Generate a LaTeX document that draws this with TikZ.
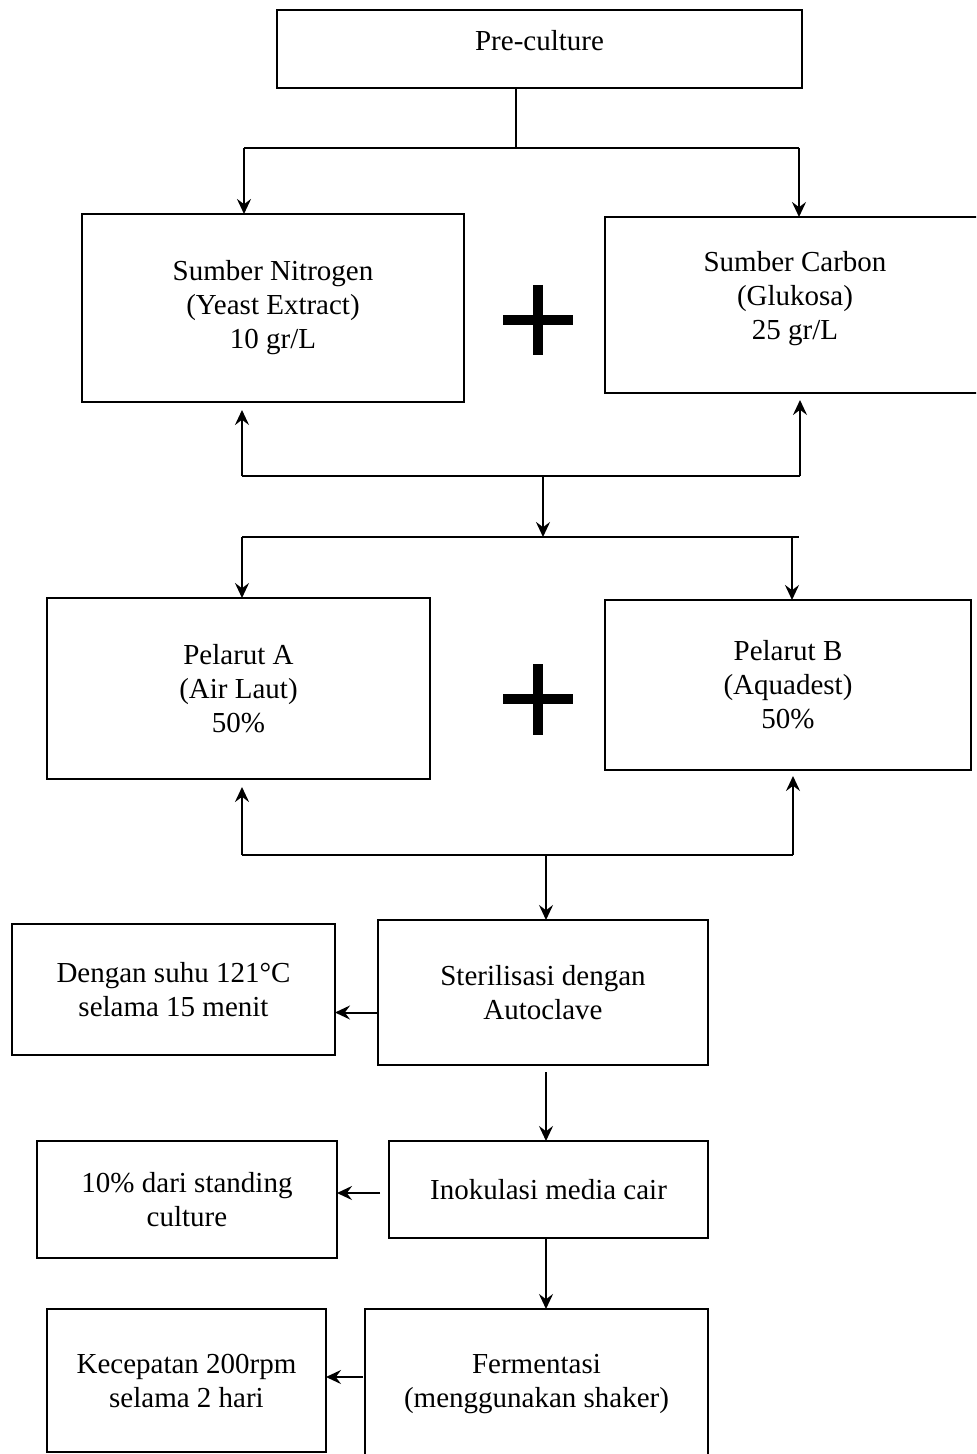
\documentclass[tikz,border=0pt]{standalone}
\usepackage{fontspec}
\setmainfont{Liberation Serif}
\usetikzlibrary{arrows.meta,calc}

\tikzset{
  box/.style={draw, line width=1.25pt, inner sep=0pt, outer sep=0pt,
    align=center, font=\fontsize{14.5}{17}\selectfont},
  sz/.style 2 args={minimum width=#1*0.5pt, minimum height=#2*0.5pt},
  conn/.style={line width=1pt},
  arr/.style={conn, -{Stealth[length=7.5pt,width=7pt,inset=2.6pt]}},
  plusbar/.style={line width=5pt}
}

\begin{document}
\begin{tikzpicture}[x=0.5pt, y=-0.5pt]
\clip (0,0) rectangle (976,1454);

% process boxes
\node[box, sz={525}{78}, text depth=9pt] (pre) at (539.5,49) {Pre-culture};
\node[box, sz={382}{188}] (nitro) at (273,308)
  {Sumber Nitrogen\\(Yeast Extract)\\10 gr/L};
\node[box, sz={380}{176}, text depth=10pt] (carbon) at (795,305)
  {Sumber Carbon\\(Glukosa)\\25 gr/L};
\node[box, sz={383}{181}] (pelA) at (238.5,688.5)
  {Pelarut A\\(Air Laut)\\50\%};
\node[box, sz={366}{170}] (pelB) at (788,685)
  {Pelarut B\\(Aquadest)\\50\%};
\node[box, sz={330}{145}] (ster) at (543,992.5)
  {Sterilisasi dengan\\Autoclave};
\node[box, sz={323}{131}] (dengan) at (173.5,989.5)
  {Dengan suhu 121°C\\selama 15 menit};
\node[box, sz={319}{97}] (inok) at (548.5,1189.5) {Inokulasi media cair};
\node[box, sz={300}{117}] (ten) at (187,1199.5)
  {10\% dari standing\\culture};
\node[box, sz={343}{151}] (ferm) at (536.5,1384.5)
  {Fermentasi\\(menggunakan shaker)};
\node[box, sz={279}{143}] (kec) at (186.5,1380.5)
  {Kecepatan 200rpm\\selama 2 hari};

% plus signs between the paired inputs
\draw[plusbar] (503,320) -- (573,320) (538,285) -- (538,355);
\draw[plusbar] (503,699) -- (573,699) (538,664) -- (538,735);

% pre-culture splits into the two sources
\coordinate (t0) at (516,148);
\coordinate (tL) at (244,148);
\coordinate (tR) at (799,148);
\draw[conn] (pre.south -| t0) -- (t0);
\draw[conn] (tL) -- (tR);
\draw[arr] (tL) -- (tL |- nitro.north);
\draw[arr] (tR) -- (tR |- carbon.north);

% sources merged, then split to the solvents
\coordinate (m1L) at (242,476);
\coordinate (m1R) at (800,476);
\coordinate (m1C) at (543,476);
\coordinate (m2C) at (543,537);
\coordinate (m2L) at (242,537);
\coordinate (m2R) at (799,537);
\coordinate (m2B) at (792,537);
\draw[conn] (m1L) -- (m1R);
\draw[arr, shorten >=4pt] (m1L) -- (m1L |- nitro.south);
\draw[arr, shorten >=3.5pt] (m1R) -- (m1R |- carbon.south);
\draw[arr] (m1C) -- (m2C);
\draw[conn] (m2L) -- (m2R);
\draw[arr] (m2L) -- (m2L |- pelA.north);
\draw[arr] (m2B) -- (m2B |- pelB.north);

% solvents merged into sterilisation
\coordinate (bL) at (242,855);
\coordinate (bR) at (793,855);
\coordinate (bC) at (546,855);
\draw[conn] (bL) -- (bR);
\draw[arr, shorten >=4pt] (bL) -- (bL |- pelA.south);
\draw[arr, shorten >=3pt] (bR) -- (bR |- pelB.south);
\draw[arr] (bC) -- (bC |- ster.north);

% main chain
\draw[arr, shorten <=3.5pt] (ster.south -| bC) -- (bC |- inok.north);
\draw[arr] (inok.south -| bC) -- (bC |- ferm.north);

% side notes
\coordinate (s1) at ([yshift=-10pt]ster.west);
\draw[arr] (s1) -- (s1 -| dengan.east);
\coordinate (s2) at ([yshift=-1.75pt]inok.west);
\draw[arr, shorten <=4.5pt] (s2) -- (s2 -| ten.east);
\coordinate (s3) at ([yshift=3.75pt]ferm.west);
\draw[arr, shorten <=1pt] (s3) -- (s3 -| kec.east);
\end{tikzpicture}
\end{document}
